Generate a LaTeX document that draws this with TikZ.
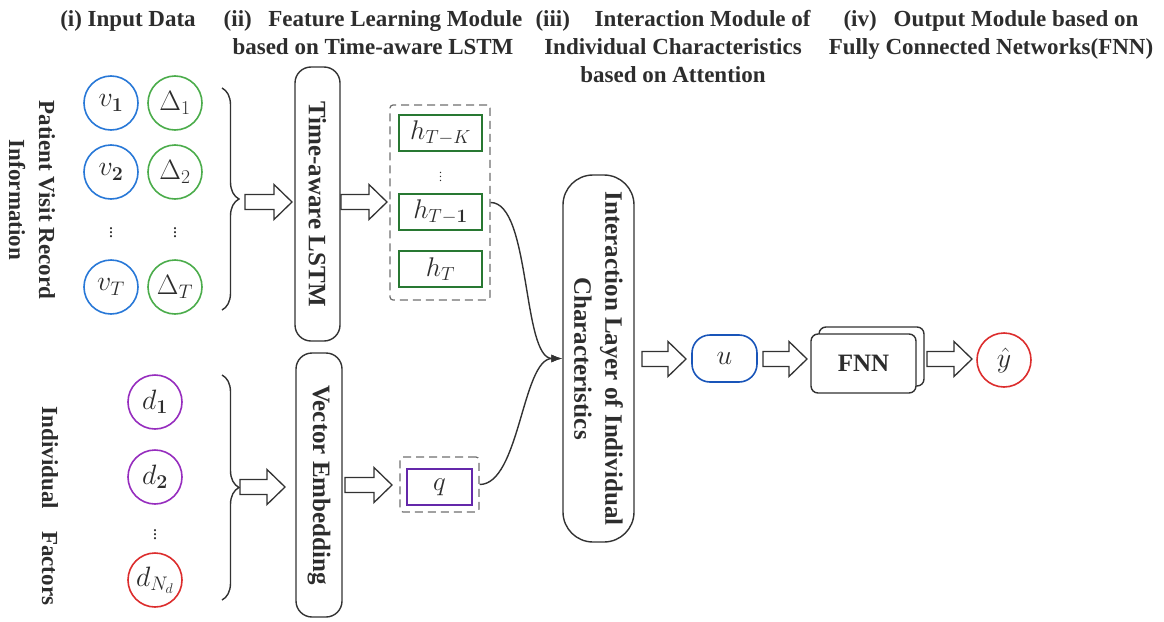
\RequirePackage{fix-cm}
\documentclass[tikz,border=0pt]{standalone}
\usepackage[no-math]{fontspec}
\setmainfont{Liberation Serif}
\usetikzlibrary{decorations.pathreplacing,arrows.meta}
\definecolor{txt}{RGB}{45,45,45}
\definecolor{lin}{RGB}{50,50,50}
\definecolor{dgray}{RGB}{110,110,110}
\definecolor{vblue}{RGB}{40,120,215}
\definecolor{ublue}{RGB}{25,85,185}
\definecolor{dgreen}{RGB}{75,172,75}
\definecolor{hgreen}{RGB}{40,120,50}
\definecolor{dpurple}{RGB}{150,45,190}
\definecolor{qpurple}{RGB}{100,40,170}
\definecolor{yred}{RGB}{220,45,45}
\tikzset{
  pics/barrow/.style={code={
    \draw[line width=1.3pt, draw=lin, fill=white, line join=miter]
      (0,-7.5) -- (#1-18,-7.5) -- (#1-18,-17.5) -- (#1,0) -- (#1-18,17.5) -- (#1-18,7.5) -- (0,7.5) -- cycle;}},
}
\begin{document}
\begin{tikzpicture}[x=1pt,y=-1pt,
  hdr/.style={font=\bfseries\fontsize{23}{28}\selectfont, align=center, text=txt, anchor=north, inner sep=0pt},
  sidelbl/.style={font=\bfseries\fontsize{23}{30}\selectfont, align=center, text=txt, rotate=-90, inner sep=0pt},
  circ/.style={circle, draw=#1, line width=1.6pt, minimum size=54pt, inner sep=0pt, text=txt, font=\fontsize{28}{32}\selectfont},
  modbox/.style={draw=lin, line width=1.4pt, rounded corners=16pt, rotate=-90, font=\bfseries\fontsize{25}{31}\selectfont, text=txt, align=center, inner sep=0pt},
  hbox/.style={draw=hgreen, line width=1.5pt, minimum width=83pt, minimum height=36pt, inner sep=0pt, text=txt, font=\fontsize{27}{30}\selectfont},
  dashbox/.style={draw=dgray, dash pattern=on 8pt off 5pt, line width=1.2pt, rounded corners=3pt, inner sep=0pt},
  fnnbox/.style={draw=lin, line width=1.4pt, rounded corners=7pt, minimum width=105pt, minimum height=59pt, inner sep=0pt, fill=white, text=txt, font=\bfseries\fontsize{25}{30}\selectfont},
  vd/.style={text=txt, inner sep=0pt},
  bracestyle/.style={draw=lin, line width=1.4pt, decorate, decoration={brace, amplitude=17pt}},
  conn/.style={draw=lin, line width=1.4pt, -{Latex[length=11pt,width=8pt]}},
]
\useasboundingbox (0,0) rectangle (1164,621);

% headers
\node[hdr] (h1) at (128,10) {(i) Input Data};
\node[hdr] (h2) at (373,10) {(ii)\hspace{16.6pt}Feature Learning Module\\based on Time-aware LSTM};
\node[hdr] (h3) at (673,10) {(iii)\hspace{24.6pt}Interaction Module of\\Individual Characteristics\\based on Attention};
\node[hdr] (h4) at (991,10) {(iv)\hspace{17pt}Output Module based on\\Fully Connected Networks(FNN)};

% side labels
\node[sidelbl] (pvr) at (32,200) {Patient Visit Record\\Information};
\node[sidelbl] (indf) at (50,506) {Individual\hspace{22pt}Factors};

% input circles
\node[circ=vblue] (v1) at (111,103) {$v_{\mathbf{1}}$};
\node[circ=dgreen] (D1) at (175,103) {$\Delta_1$};
\node[circ=vblue] (v2) at (111,172) {$v_{\mathbf{2}}$};
\node[circ=dgreen] (D2) at (175,172) {$\Delta_2$};
\node[vd, font=\fontsize{18}{20}\selectfont] (vdv) at (111,230) {$\vdots$};
\node[vd, font=\fontsize{18}{20}\selectfont] (vdD) at (175,230) {$\vdots$};
\node[circ=vblue] (vT) at (111,287) {$v_T$};
\node[circ=dgreen] (DT) at (175,287) {$\Delta_T$};

\node[circ=dpurple] (d1) at (155,402) {$d_{\mathbf{1}}$};
\node[circ=dpurple] (d2) at (155,477) {$d_{\mathbf{2}}$};
\node[vd, font=\fontsize{18}{20}\selectfont] (vdd) at (155,532) {$\vdots$};
\node[circ=yred] (dN) at (155,580) {$d_{N_d}$};

% braces
\draw[bracestyle] (222,88) -- (222,310);
\draw[bracestyle] (222,375) -- (222,600);

% module boxes
\node[modbox, minimum width=274pt, minimum height=45pt] (lstm) at (317.5,204) {Time-aware LSTM};
\node[modbox, minimum width=264pt, minimum height=46pt] (vemb) at (319,485) {Vector Embedding};
\node[modbox, minimum width=367pt, minimum height=71pt, rounded corners=30pt] (inter) at (598.5,358.5) {Interaction Layer of Individual\\Characteristics};

% hidden states
\node[dashbox, minimum width=100pt, minimum height=195pt] (hgrp) at (440,202.5) {};
\node[hbox] (hTK) at (440.5,133) {$h_{T-K}$};
\node[vd, font=\fontsize{12}{14}\selectfont] (vdh) at (440.5,174) {$\vdots$};
\node[hbox] (hT1) at (440.5,212) {$h_{T-\mathbf{1}}$};
\node[hbox] (hT) at (440.5,269) {$h_T$};

% q
\node[dashbox, minimum width=79pt, minimum height=55pt] (qgrp) at (439.5,484.5) {};
\node[draw=qpurple, line width=1.5pt, minimum width=65pt, minimum height=36pt, inner sep=0pt, text=txt, font=\fontsize{27}{30}\selectfont] (q) at (439.5,487) {$q$};

% output
\node[draw=ublue, line width=1.6pt, rounded corners=18pt, minimum width=65pt, minimum height=47pt, inner sep=0pt, text=txt, font=\fontsize{28}{30}\selectfont] (u) at (724.5,358.5) {$u$};
\node[fnnbox] (fnnback) at (871.5,356.5) {};
\node[fnnbox] (fnn) at (863.5,363.5) {FNN};
\node[circ=yred] (yhat) at (1004,360) {$\hat{y}$};

% block arrows
\pic at (245,202) {barrow=47};
\pic at (240,487) {barrow=45};
\pic at (341,202) {barrow=46};
\pic at (345,485) {barrow=47};
\pic at (642,359) {barrow=44};
\pic at (763,359) {barrow=44};
\pic at (927,359) {barrow=45};

% curved connectors
\draw[conn] (hgrp.east) to[out=0,in=180,looseness=0.6] (inter.south);
\draw[conn] (qgrp.east) to[out=0,in=180,looseness=0.68] (inter.south);
\end{tikzpicture}
\end{document}
